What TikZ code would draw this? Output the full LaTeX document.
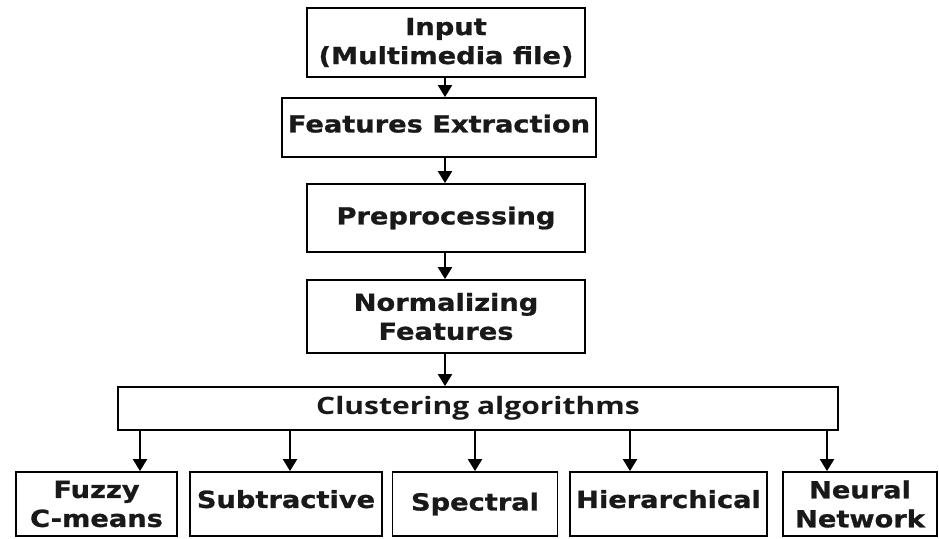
\documentclass[tikz,border=0pt]{standalone}
\usepackage{fontspec}
\setmainfont{DejaVu Sans}[FakeStretch=1.16, BoldFeatures={FakeBold=1}]
\newfontfamily\clfont{Open Sans}[FakeStretch=1.25]
\usetikzlibrary{arrows.meta}
\tikzset{
  box/.style={draw=black, line width=1.8pt, rectangle, align=center, inner sep=0pt,
    font=\fontsize{23.5}{29}\selectfont\bfseries, text=black!90},
  arr/.style={line width=2pt, -{Triangle[length=12pt,width=14pt]}},
}
\newcommand{\lift}[2]{\raisebox{#1}{#2}}
\begin{document}
\begin{tikzpicture}[x=1pt,y=-1pt]
\useasboundingbox (0,0) rectangle (939,538);
% main chain
\node[box, minimum width=278pt, minimum height=69pt] (inp) at (446,42.5) {\lift{-5pt}{Input}\\\lift{-5pt}{(Multimedia file)}};
\node[box, minimum width=314pt, minimum height=59pt] (fe) at (439,127.5) {\lift{8pt}{Features Extraction}};
\node[box, minimum width=278pt, minimum height=68pt] (pre) at (446,218) {\lift{4pt}{Preprocessing}};
\node[box, minimum width=278pt, minimum height=73pt] (nor) at (446,316.5) {Normalizing\\Features};
\node[box, minimum width=720pt, minimum height=43pt, font=\fontsize{24}{26}\clfont\bfseries] (cl) at (478,408.5) {Clustering algorithms};
% algorithms
\node[box, minimum width=161pt, minimum height=64pt] (fz) at (96.5,504) {Fuzzy\\C-means};
\node[box, minimum width=192pt, minimum height=64pt] (sb) at (286,504) {\lift{10pt}{Subtractive}};
\node[box, minimum width=165pt, minimum height=64pt] (sp) at (475,504) {Spectral};
\node[box, minimum width=197pt, minimum height=64pt] (hi) at (668.5,504) {\lift{10pt}{Hierarchical}};
\node[box, minimum width=154pt, minimum height=64pt] (nn) at (860,504) {Neural\\Network};
% arrow columns
\coordinate (c0) at (445,0);
\coordinate (c1) at (140,0);
\coordinate (c2) at (290,0);
\coordinate (c3) at (475,0);
\coordinate (c4) at (630,0);
\coordinate (c5) at (827,0);
\draw[arr] (inp.south -| c0) -- (fe.north -| c0);
\draw[arr] (fe.south -| c0) -- (pre.north -| c0);
\draw[arr] (pre.south -| c0) -- (nor.north -| c0);
\draw[arr] (nor.south -| c0) -- (cl.north -| c0);
\draw[arr] (cl.south -| c1) -- (fz.north -| c1);
\draw[arr] (cl.south -| c2) -- (sb.north -| c2);
\draw[arr] (cl.south -| c3) -- (sp.north -| c3);
\draw[arr] (cl.south -| c4) -- (hi.north -| c4);
\draw[arr] (cl.south -| c5) -- (nn.north -| c5);
\end{tikzpicture}
\end{document}
